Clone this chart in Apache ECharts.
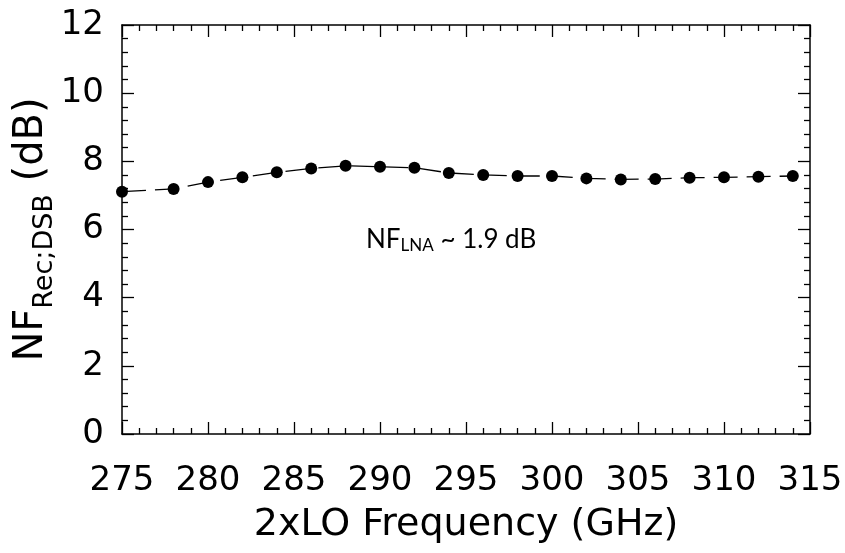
<!DOCTYPE html>
<html>
<head>
<meta charset="utf-8">
<script src="https://cdn.jsdelivr.net/npm/echarts@6/dist/echarts.min.js"></script>
<style>
  html,body{margin:0;padding:0;background:#fff;}
  #chart{width:845px;height:553px;}
</style>
</head>
<body>
<div id="chart"></div>
<script>
// 2xLO frequency (GHz) and receiver DSB noise figure (dB)
var freq = [275, 278, 280, 282, 284, 286, 288, 290, 292, 294, 296, 298, 300, 302, 304, 306, 308, 310, 312, 314];
var nfRec = [7.11, 7.19, 7.39, 7.53, 7.68, 7.79, 7.87, 7.84, 7.81, 7.66, 7.60, 7.57, 7.57, 7.50, 7.47, 7.48, 7.52, 7.53, 7.55, 7.57];
var xTicks = [275, 280, 285, 290, 295, 300, 305, 310, 315];
var yTicks = [0, 2, 4, 6, 8, 10, 12];

var noteText = '{a|NF}{b|LNA}{a| ~ 1.9 dB}';

var chart = echarts.init(document.getElementById('chart'));

var pts = [];
for (var i = 0; i < freq.length; i++) {
  pts.push([freq[i], nfRec[i]]);
}

var fontMain = '"DejaVu Sans", Verdana, sans-serif';

function tickAxis(pos, isX, show) {
  var ax = {
    type: 'value',
    position: pos,
    min: isX ? xTicks[0] : yTicks[0],
    max: isX ? xTicks[xTicks.length - 1] : yTicks[yTicks.length - 1],
    interval: isX ? 5 : 2,
    axisLine: { show: true, onZero: false, lineStyle: { color: '#000', width: 1.5 } },
    axisTick: { show: true, inside: true, length: 12, lineStyle: { color: '#000', width: 1.3 } },
    minorTick: { show: true, splitNumber: 5, length: 6, lineStyle: { color: '#000', width: 1.3 } },
    splitLine: { show: false },
    axisLabel: { show: false }
  };
  if (show) {
    ax.axisLabel = {
      show: true,
      color: '#000',
      fontFamily: fontMain,
      fontSize: 34,
      margin: isX ? 30 : 18
    };
  }
  return ax;
}

var xBottom = tickAxis('bottom', true, true);
xBottom.name = '2xLO Frequency (GHz)';
xBottom.nameLocation = 'middle';
xBottom.nameGap = 72;
xBottom.nameMoveOverlap = false;
xBottom.nameTextStyle = { color: '#000', fontFamily: fontMain, fontSize: 38 };

var yLeft = tickAxis('left', false, true);
yLeft.name = '{a|NF}{s|Rec;DSB}{a| (dB)}';
yLeft.nameLocation = 'middle';
yLeft.nameRotate = 90;
yLeft.nameGap = 62;
yLeft.nameMoveOverlap = false;
yLeft.nameTextStyle = {
  color: '#000',
  rich: {
    a: { fontFamily: fontMain, fontSize: 40, color: '#000', lineHeight: 48, verticalAlign: 'top' },
    s: { fontFamily: fontMain, fontSize: 27, color: '#000', lineHeight: 32, verticalAlign: 'top', padding: [19, 0, 0, 0] }
  }
};

var option = {
  backgroundColor: '#fff',
  animation: false,
  grid: { left: 122, right: 35, top: 25, bottom: 119, outerBoundsMode: 'none', containLabel: false },
  title: {
    text: noteText,
    left: 361,
    top: 222,
    textStyle: {
      fontWeight: 'normal',
      rich: {
        a: { fontFamily: 'Lato, "Open Sans", sans-serif', fontWeight: 'normal', fontSize: 26, color: '#000', lineHeight: 32, verticalAlign: 'top' },
        b: { fontFamily: 'Lato, "Open Sans", sans-serif', fontWeight: 'normal', fontSize: 17, color: '#000', lineHeight: 22, verticalAlign: 'top', padding: [10, 0, 0, 0] }
      }
    }
  },
  xAxis: [xBottom, tickAxis('top', true, false)],
  yAxis: [yLeft, tickAxis('right', false, false)],
  series: [{
    type: 'line',
    data: pts,
    xAxisIndex: 0,
    yAxisIndex: 0,
    symbol: 'circle',
    symbolSize: 12,
    itemStyle: { color: '#000' },
    lineStyle: { color: '#000', width: 1.3, type: [24, 9] },
    clip: false
  }]
};
chart.setOption(option);
</script>
</body>
</html>
